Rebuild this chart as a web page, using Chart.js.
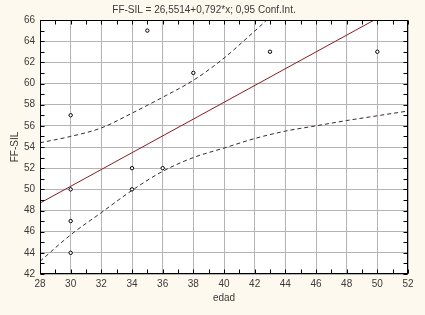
<!DOCTYPE html>
<html>
<head>
<meta charset="utf-8">
<script src="https://cdn.jsdelivr.net/npm/chart.js@4.4.1/dist/chart.umd.min.js"></script>
<style>
  html, body { margin: 0; padding: 0; background: #FDF9EE; }
  #wrap { width: 425px; height: 315px; }
</style>
</head>
<body>
<div id="wrap"><canvas id="c" width="425" height="315"></canvas></div>
<script>
// ---- data ----
const edad  = [30, 30, 30, 30, 34, 34, 35, 36, 38, 43, 50];
const ffsil = [57, 50, 47, 44, 52, 50, 65, 52, 61, 63, 63];

// regression line (FF-SIL = 26,5514 + 0,792*x), endpoints
const fitX = [28, 49.8];
const fitY = [48.7, 66];

// 0,95 confidence band
const upperX = [28, 30, 32, 34, 36, 38, 40, 41.5, 42.8];
const upperY = [54.4, 55.0, 55.8, 57.2, 58.7, 60.3, 62.4, 64.3, 66];
const lowerX = [28, 30, 32, 34, 36, 38, 40, 42, 44, 46, 48, 50, 52];
const lowerY = [43.2, 45.7, 47.8, 49.9, 51.7, 53.0, 53.9, 54.8, 55.5, 56.0, 56.5, 56.95, 57.4];

const xRange = [28, 52];
const yRange = [42, 66];
const tickStep = 2;

const titleText = 'FF-SIL = 26,5514+0,792*x; 0,95 Conf.Int.';
const xTitle = 'edad';
const yTitle = 'FF-SIL';

const zip = (xs, ys) => xs.map((v, i) => ({ x: v, y: ys[i] }));

const FONT = 'Liberation Sans, Arial, sans-serif';
const TXT = '#3a3a3a';

const framePlugin = {
  id: 'frame',
  beforeDraw(chart) {
    const { ctx, chartArea: a } = chart;
    ctx.save();
    ctx.fillStyle = '#FDF9EE';
    ctx.fillRect(0, 0, chart.width, chart.height);
    ctx.fillStyle = '#FFFFFF';
    ctx.fillRect(a.left, a.top, a.right - a.left, a.bottom - a.top);
    ctx.restore();
  },
  afterDraw(chart) {
    const { ctx, chartArea: a, scales: { x, y } } = chart;
    ctx.save();
    ctx.strokeStyle = '#000';
    ctx.lineWidth = 1;
    ctx.beginPath();
    const L = Math.round(a.left) + 0.5, R = Math.round(a.right) - 0.5;
    const T = Math.round(a.top) + 0.5, B = Math.round(a.bottom) - 0.5;
    for (let v = x.min; v <= x.max; v += 1) {
      const px = Math.round(x.getPixelForValue(v)) + 0.5;
      ctx.moveTo(px, B); ctx.lineTo(px, B - 4);
      ctx.moveTo(px, T); ctx.lineTo(px, T + 4);
    }
    for (let v = y.min; v <= y.max; v += 1) {
      const py = Math.round(y.getPixelForValue(v)) + 0.5;
      ctx.moveTo(L, py); ctx.lineTo(L + 4, py);
      ctx.moveTo(R, py); ctx.lineTo(R - 4, py);
    }
    ctx.stroke();
    ctx.strokeRect(L, T, R - L, B - T);
    ctx.restore();
  }
};

new Chart(document.getElementById('c'), {
  type: 'scatter',
  data: {
    datasets: [
      {
        label: 'upper',
        data: zip(upperX, upperY),
        showLine: true,
        borderColor: '#3a2a2a',
        borderWidth: 1,
        borderDash: [4, 3],
        pointRadius: 0,
        cubicInterpolationMode: 'monotone',
        order: 2
      },
      {
        label: 'lower',
        data: zip(lowerX, lowerY),
        showLine: true,
        borderColor: '#3a2a2a',
        borderWidth: 1,
        borderDash: [4, 3],
        pointRadius: 0,
        cubicInterpolationMode: 'monotone',
        order: 2
      },
      {
        label: 'fit',
        data: zip(fitX, fitY),
        showLine: true,
        borderColor: '#8a1c24',
        borderWidth: 1,
        pointRadius: 0,
        order: 1
      },
      {
        label: 'FF-SIL',
        data: zip(edad, ffsil),
        pointStyle: 'circle',
        pointRadius: 1.7,
        pointBorderWidth: 1,
        borderColor: '#000',
        backgroundColor: '#fff',
        order: 0
      }
    ]
  },
  options: {
    responsive: false,
    animation: false,
    devicePixelRatio: 1,
    layout: { padding: { left: 0, right: 17, top: 0, bottom: 0 } },
    plugins: {
      legend: { display: false },
      tooltip: { enabled: false },
      title: {
        display: true,
        text: titleText,
        color: TXT,
        font: { family: FONT, size: 10, weight: 'normal', lineHeight: 1.2 },
        padding: { top: 4, bottom: 4 }
      }
    },
    scales: {
      x: {
        type: 'linear',
        min: xRange[0], max: xRange[1],
        afterFit(s) { s.height = 41; },
        border: { display: false },
        grid: { color: '#b4b4b4', borderDash: [1, 2], drawTicks: false, lineWidth: 1 },
        ticks: { stepSize: tickStep, color: TXT, padding: 4, maxRotation: 0,
                 font: { family: FONT, size: 10 } },
        title: { display: true, text: xTitle, color: TXT,
                 font: { family: FONT, size: 10, lineHeight: 1.2 },
                 padding: { top: 0, bottom: 11 } }
      },
      y: {
        type: 'linear',
        min: yRange[0], max: yRange[1],
        afterFit(s) { s.width = 40; },
        border: { display: false },
        grid: { color: '#b4b4b4', borderDash: [1, 2], drawTicks: false, lineWidth: 1 },
        ticks: { stepSize: tickStep, color: TXT, padding: 5,
                 font: { family: FONT, size: 10 } },
        title: { display: true, text: yTitle, color: TXT,
                 font: { family: FONT, size: 10, lineHeight: 1.2 },
                 padding: { top: 9, bottom: 0 } }
      }
    }
  },
  plugins: [framePlugin]
});
</script>
</body>
</html>
